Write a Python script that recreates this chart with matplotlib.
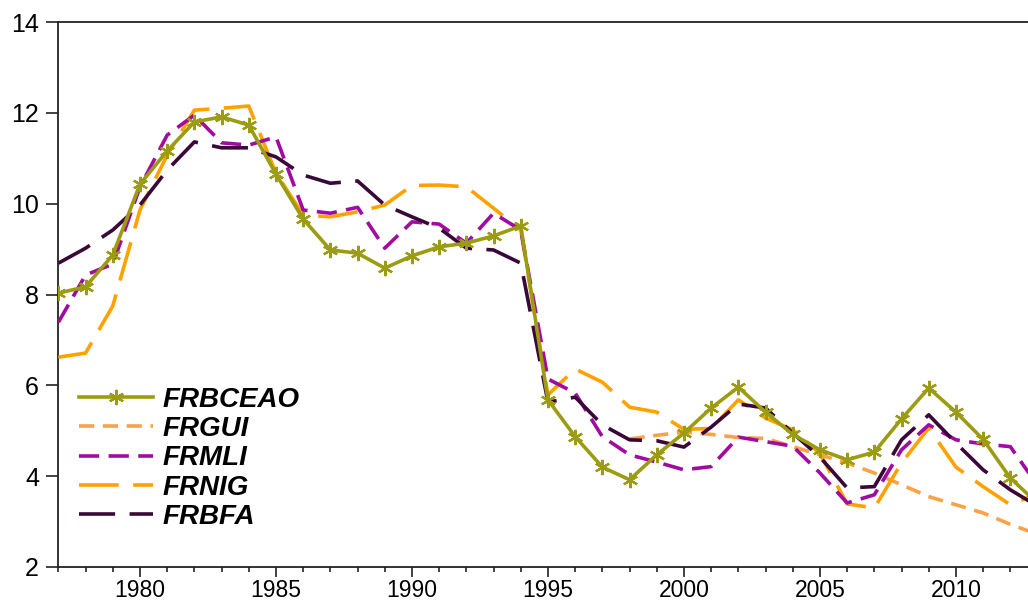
import matplotlib
matplotlib.use("Agg")
import matplotlib.pyplot as plt
from matplotlib.ticker import MultipleLocator
import numpy as np

years = list(range(1977, 2014))

frbceao = [8.03, 8.17, 8.87, 10.43, 11.16, 11.80, 11.91, 11.73, 10.65, 9.66,
           8.98, 8.91, 8.58, 8.85, 9.05, 9.13, 9.29, 9.51, 5.68, 4.87,
           4.20, 3.92, 4.47, 4.95, 5.50, 5.96, 5.41, 4.92, 4.58, 4.36,
           4.53, 5.26, 5.94, 5.41, 4.81, 3.96, 3.40]

frgui_years = list(range(1998, 2014))
frgui = [4.82, 4.90, 4.97, 4.92, 4.85, 4.83, 4.65, 4.47, 4.29, 4.07,
         3.81, 3.55, 3.37, 3.19, 2.94, 2.72]

frmli = [7.39, 8.43, 8.67, 10.37, 11.51, 11.95, 11.34, 11.29, 11.47, 9.86,
         9.79, 9.92, 9.02, 9.60, 9.55, 9.13, 9.79, 9.42, 6.14, 5.83,
         4.87, 4.47, 4.31, 4.14, 4.21, 4.86, 4.76, 4.66, 4.07, 3.41,
         3.59, 4.58, 5.13, 4.80, 4.71, 4.65, 3.80]

frnig = [6.62, 6.71, 7.75, 9.86, 11.07, 12.06, 12.10, 12.15, 10.67, 9.75,
         9.71, 9.82, 9.97, 10.40, 10.41, 10.37, 9.90, 9.42, 5.79, 6.36,
         6.07, 5.52, 5.41, 5.03, 5.05, 5.68, 5.28, 5.02, 4.50, 3.39,
         3.30, 4.29, 5.06, 4.20, 3.77, 3.37, 3.62]

frbfa = [8.69, 9.02, 9.42, 9.97, 10.74, 11.36, 11.23, 11.23, 11.03, 10.63,
         10.45, 10.50, 9.97, 9.71, 9.46, 9.02, 8.98, 8.69, 5.63, 5.74,
         5.13, 4.80, 4.78, 4.64, 5.08, 5.59, 5.50, 4.95, 4.42, 3.74,
         3.77, 4.80, 5.35, 4.73, 4.14, 3.70, 3.34]

labels = ["FRBCEAO", "FRGUI", "FRMLI", "FRNIG", "FRBFA"]

W, H = 1028, 607
fig = plt.figure(figsize=(W / 100, H / 100), dpi=100)
ax = fig.add_axes([58.4 / W, (H - 567) / H, 1 - 58.4 / W, (567 - 22) / H])

lw = 2.6
ax.plot(years, frbceao, color="#9C9C12", lw=lw, marker=(6, 2, 0),
        markersize=11, markeredgewidth=1.6, markeredgecolor="#9C9C12",
        label=labels[0], zorder=5)
ax.plot(frgui_years, frgui, color="#F8A347", lw=lw, dashes=(4.2, 2.4),
        label=labels[1], zorder=3)
ax.plot(years, frmli, color="#A00CA0", lw=lw, dashes=(5.6, 2.6),
        label=labels[2], zorder=4)
ax.plot(years, frnig, color="#FFA200", lw=lw, dashes=(11, 4),
        label=labels[3], zorder=3)
ax.plot(years, frbfa, color="#3A0838", lw=lw, dashes=(10, 4),
        label=labels[4], zorder=4)

ax.set_xlim(1977, 2012.65)
ax.set_ylim(2, 14)
ax.xaxis.set_major_locator(MultipleLocator(5))
ax.xaxis.set_minor_locator(MultipleLocator(1))
ax.yaxis.set_major_locator(MultipleLocator(2))

for s in ["left", "top", "bottom"]:
    ax.spines[s].set_linewidth(1.3)
    ax.spines[s].set_color("#222222")
ax.spines["right"].set_visible(False)

ax.tick_params(axis="x", which="major", direction="out", length=7, width=1.2,
               labelsize=16.5, pad=1.5, colors="#222222", labelcolor="black")
ax.tick_params(axis="x", which="minor", direction="out", length=3.5, width=1.2,
               colors="#222222")
ax.tick_params(axis="y", which="major", direction="out", length=9, width=1.2,
               labelsize=18, pad=5, colors="#222222", labelcolor="black")
for t in ax.get_xticklabels() + ax.get_yticklabels():
    t.set_fontfamily("Liberation Sans")

ax_w = 1028 - 58.4
leg = ax.legend(loc="upper left",
                bbox_to_anchor=((79 - 58.4) / ax_w, (567 - 387) / 545),
                frameon=False,
                prop={"family": "Liberation Sans", "weight": "bold",
                      "style": "italic", "size": 20},
                handlelength=2.66, handletextpad=0.36, labelspacing=0.115,
                borderaxespad=0.0, borderpad=0.0, markerscale=1.0)

fig.savefig("out.png", dpi=100)
